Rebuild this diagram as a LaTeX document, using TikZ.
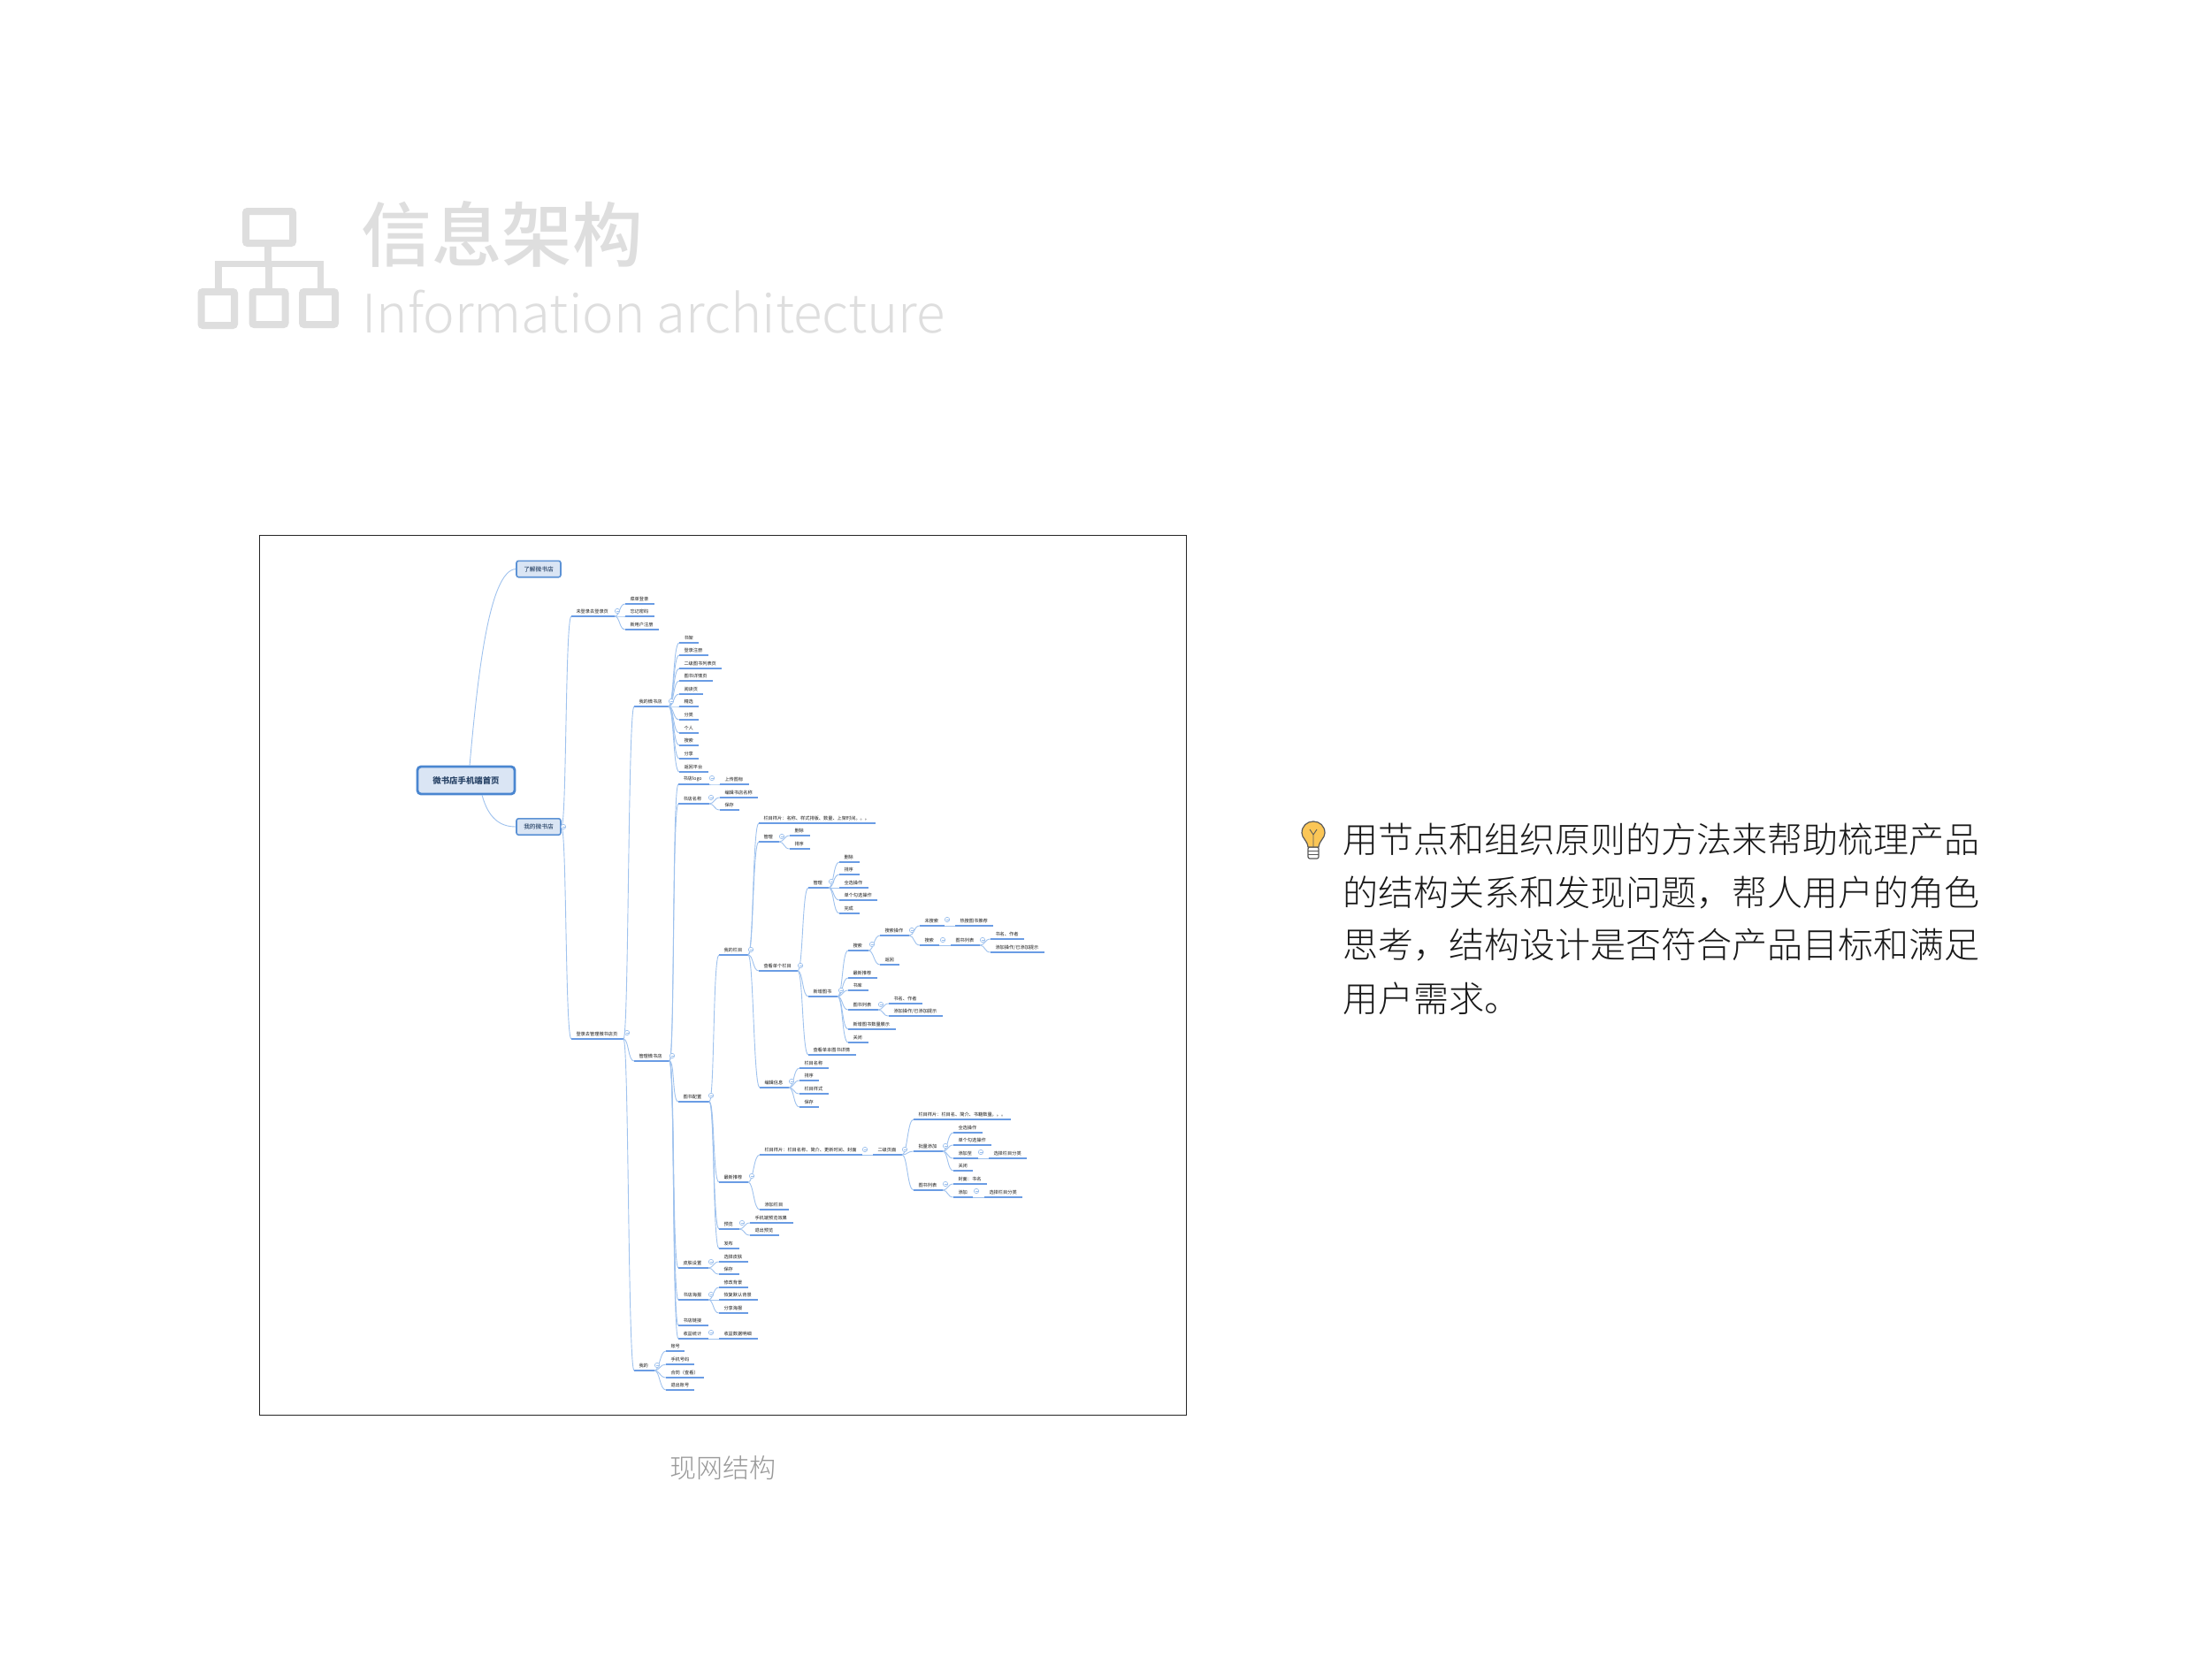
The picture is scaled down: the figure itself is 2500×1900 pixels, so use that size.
\documentclass[tikz,border=0pt]{standalone}
\usepackage{fontspec}
\setmainfont{Noto Sans CJK SC}
\newfontfamily\lightfont{Noto Sans CJK SC Light}
\newfontfamily\medfont{Noto Sans CJK SC Medium}
\definecolor{ttl}{HTML}{DEDEDE}
\definecolor{ul}{HTML}{6A9CE4}
\definecolor{cn}{HTML}{9FC2EE}
\definecolor{boxf}{HTML}{DAE5F4}
\definecolor{boxd}{HTML}{4A86D0}
\definecolor{txtb}{HTML}{2A4568}
\tikzset{
  x=0.5pt,y=-0.5pt,
  leaf/.style={inner sep=0pt,outer sep=0pt,text=black!90,font=\fontsize{2.6pt}{3pt}\selectfont},
  underl/.style={draw=ul,line width=0.55pt},
  conn/.style={draw=cn,line width=0.45pt},
  foldmark/.style={draw=cn,line width=0.35pt,fill=white},
  rootbox/.style={draw=boxd,line width=1.4pt,fill=boxf,rounded corners=2pt,minimum width=55pt,minimum height=15.5pt,text=txtb,font=\fontsize{4.7pt}{5pt}\selectfont\bfseries,inner sep=0pt},
  subbox/.style={draw=boxd!90,line width=0.8pt,fill=boxf,rounded corners=1.2pt,minimum width=25pt,minimum height=9.2pt,text=txtb,font=\medfont\fontsize{3.35pt}{4pt}\selectfont,inner sep=0pt},
  icon/.style={draw=ttl,line width=4pt,rounded corners=1pt},
  iconl/.style={draw=ttl,line width=3.8pt},
  bodyt/.style={inner sep=0pt,anchor=west,text=black!90,font=\lightfont\fontsize{20pt}{24pt}\selectfont},
}
\newcommand{\mnode}[5]{%
  \coordinate (#1-l) at (#2,#4);
  \coordinate (#1-r) at (#3,#4);
  \node[leaf,anchor=west] (#1) at (#2+5.5,#4-5.7) {#5};
  \draw[underl] (#1-l) -- (#1-r);}
\newcommand{\mconn}[2]{\draw[conn] (#1-r) .. controls +(6,0) and +(-7,0) .. (#2-l);}
\newcommand{\mfold}[2]{\draw[foldmark] (#1,#2) circle (2.7);\draw[foldmark] (#1-1.5,#2) -- (#1+1.5,#2);}
\begin{document}
\begin{tikzpicture}
\useasboundingbox (0,0) rectangle (2500,1900);
\fill[white] (0,0) rectangle (2500,1900);
% heading icon
\draw[icon] (278,239) rectangle (331,275);
\draw[iconl] (303,279) -- (303,298);
\draw[iconl] (247,326) -- (247,298.5) -- (362.5,298.5) -- (362.5,326);
\draw[iconl] (304,298) -- (304,326);
\draw[icon] (227.5,330) rectangle (265,368);
\draw[icon] (285.5,330) rectangle (322.5,367);
\draw[icon] (342,330) rectangle (379,367);
\node[inner sep=0pt,anchor=west,text=ttl,font=\medfont\fontsize{39.8pt}{42pt}\selectfont] (title) at (408,265) {信息架构};
\node[inner sep=0pt,anchor=base west,text=ttl,font=\lightfont\fontsize{30pt}{34pt}\selectfont] (subtitle) at (409,376) {Information architecture};
% frame
\draw[draw=black!85,line width=0.5pt] (293,605) rectangle (1341,1600);
\node[inner sep=0pt,text=black!40,font=\lightfont\fontsize{15pt}{18pt}\selectfont] (caption) at (817,1660) {现网结构};
% right text
\node[bodyt] (l1) at (1518,949) {用节点和组织原则的方法来帮助梳理产品};
\node[bodyt] (l2) at (1518,1009) {的结构关系和发现问题，帮人用户的角色};
\node[bodyt] (l3) at (1518,1069) {思考，结构设计是否符合产品目标和满足};
\node[bodyt] (l4) at (1518,1129) {用户需求。};
% bulb
\draw[fill=white,draw=black!65,line width=0.6pt,rounded corners=1pt] (1479,958) rectangle (1491,971);
\draw[draw=black!65,line width=0.5pt] (1479,962) -- (1491,962) (1479,966) -- (1491,966);
\draw[fill=yellow!35!orange!65,fill opacity=1,draw=black!65,line width=0.6pt] (1479,958) .. controls (1478,950) and (1472,948) .. (1472,942) .. controls (1472,934) and (1478,929) .. (1485,929) .. controls (1492,929) and (1498,934) .. (1498,942) .. controls (1498,948) and (1492,950) .. (1491,958) -- cycle;
\draw[draw=black!65,line width=0.45pt] (1481,938) -- (1485,944) -- (1489,938) (1485,944) -- (1485,958);

% ---- mind map ----
\node[rootbox] (root) at (527,882.5) {微书店手机端首页};
\node[subbox] (about) at (609,643.5) {了解微书店};
\node[subbox] (shop) at (609,935) {我的微书店};
\coordinate (shop-r) at (shop.east);
\draw[conn] (531,866) .. controls (540,765) and (553,645) .. (about.west);
\draw[conn] (545,899) .. controls (552,925) and (565,935) .. (shop.west);

\mnode{guest}{646}{695}{697}{未登录去登录页}
\mnode{mgr}{646}{705}{1175}{登录去管理微书店页}
\mconn{shop}{guest}\mconn{shop}{mgr}
\mnode{ga}{707}{740}{683}{菜单登录}
\mnode{gb}{707}{740}{697}{忘记密码}
\mnode{gc}{707}{745}{712}{新用户注册}
\mconn{guest}{ga}\mconn{guest}{gb}\mconn{guest}{gc}

\mnode{wshop}{717}{756}{799}{我的微书店}
\mnode{admin}{717}{757}{1200}{管理微书店}
\mnode{mine}{717}{740}{1550}{我的}
\mconn{mgr}{wshop}\mconn{mgr}{admin}\mconn{mgr}{mine}

\mnode{wa}{768}{790}{727}{书架}
\mnode{wb}{768}{801}{741}{登录注册}
\mnode{wc}{768}{816}{756}{二级图书列表页}
\mnode{wd}{768}{806}{770}{图书详情页}
\mnode{we}{768}{795}{785}{阅读页}
\mnode{wf}{768}{790}{799}{精选}
\mnode{wg}{768}{790}{814}{分类}
\mnode{wh}{768}{790}{829}{个人}
\mnode{wi}{768}{790}{843}{搜索}
\mnode{wj}{768}{790}{858}{分享}
\mnode{wk}{768}{801}{873}{返回平台}
\mconn{wshop}{wa}\mconn{wshop}{wb}\mconn{wshop}{wc}\mconn{wshop}{wd}\mconn{wshop}{we}\mconn{wshop}{wf}\mconn{wshop}{wg}\mconn{wshop}{wh}\mconn{wshop}{wi}\mconn{wshop}{wj}\mconn{wshop}{wk}

\mnode{logo}{767}{802}{887}{书店logo}
\mnode{sname}{767}{802}{909}{书店名称}
\mnode{conf}{767}{802}{1246}{图书配置}
\mnode{skin}{767}{801}{1434}{皮肤设置}
\mnode{poster}{767}{801}{1470}{书店海报}
\mnode{slink}{767}{801}{1499}{书店链接}
\mnode{income}{767}{801}{1514}{收益统计}
\mconn{admin}{logo}\mconn{admin}{sname}\mconn{admin}{conf}\mconn{admin}{skin}\mconn{admin}{poster}\mconn{admin}{slink}\mconn{admin}{income}

\mnode{upl}{814}{847}{887}{上传图标}
\mconn{logo}{upl}
\mnode{edn}{814}{857}{902}{编辑书店名称}
\mnode{svn}{814}{836}{916}{保存}
\mconn{sname}{edn}\mconn{sname}{svn}
\mnode{ska}{813}{846}{1427}{选择皮肤}
\mnode{skb}{813}{836}{1441}{保存}
\mconn{skin}{ska}\mconn{skin}{skb}
\mnode{poa}{813}{846}{1456}{修改背景}
\mnode{pob}{813}{857}{1470}{恢复默认背景}
\mnode{poc}{813}{846}{1485}{分享海报}
\mconn{poster}{poa}\mconn{poster}{pob}\mconn{poster}{poc}
\mnode{ina}{813}{857}{1514}{收益数据明细}
\mconn{income}{ina}

\mnode{ma}{753}{774}{1528}{账号}
\mnode{mb}{753}{785}{1543}{手机号码}
\mnode{mc}{753}{796}{1558}{合同（查看）}
\mnode{md}{753}{785}{1572}{退出账号}
\mconn{mine}{ma}\mconn{mine}{mb}\mconn{mine}{mc}\mconn{mine}{md}

\mnode{col}{813}{846}{1080}{我的栏目}
\mnode{newr}{813}{846}{1337}{最新推荐}
\mnode{prev}{813}{836}{1390}{预览}
\mnode{pub}{813}{836}{1412}{发布}
\mconn{conf}{col}\mconn{conf}{newr}\mconn{conf}{prev}\mconn{conf}{pub}
\mnode{pra}{848}{897}{1383}{手机端预览效果}
\mnode{prb}{848}{881}{1397}{退出预览}
\mconn{prev}{pra}\mconn{prev}{prb}

\mnode{cola}{858}{990}{931}{栏目样片：名称、样式排版、数量、上架时间。。。}
\mnode{colb}{858}{881}{952}{管理}
\mnode{colc}{858}{902}{1098}{查看单个栏目}
\mnode{cold}{859}{892}{1230}{编辑信息}
\mconn{col}{cola}\mconn{col}{colb}\mconn{col}{colc}\mconn{col}{cold}
\mnode{cba}{893}{916}{945}{删除}
\mnode{cbb}{893}{916}{960}{排序}
\mconn{colb}{cba}\mconn{colb}{cbb}
\mnode{cda}{904}{937}{1208}{栏目名称}
\mnode{cdb}{904}{926}{1222}{排序}
\mnode{cdc}{904}{937}{1237}{栏目样式}
\mnode{cdd}{904}{926}{1252}{保存}
\mconn{cold}{cda}\mconn{cold}{cdb}\mconn{cold}{cdc}\mconn{cold}{cdd}

\mnode{sa}{914}{937}{1004}{管理}
\mnode{sb}{914}{947}{1127}{新增图书}
\mnode{sc}{914}{968}{1193}{查看单本图书详情}
\mconn{colc}{sa}\mconn{colc}{sb}\mconn{colc}{sc}
\mnode{saa}{949}{972}{975}{删除}
\mnode{sab}{949}{972}{989}{排序}
\mnode{sac}{949}{982}{1004}{全选操作}
\mnode{sad}{949}{992}{1018}{单个勾选操作}
\mnode{sae}{949}{972}{1033}{完成}
\mconn{sa}{saa}\mconn{sa}{sab}\mconn{sa}{sac}\mconn{sa}{sad}\mconn{sa}{sae}

\mnode{ba}{959}{982}{1075}{搜索}
\mnode{bb}{959}{992}{1106}{最新推荐}
\mnode{bc}{959}{982}{1120}{书库}
\mnode{bd}{959}{993}{1142}{图书列表}
\mnode{be}{959}{1013}{1164}{新增图书数量展示}
\mnode{bf}{959}{982}{1179}{关闭}
\mconn{sb}{ba}\mconn{sb}{bb}\mconn{sb}{bc}\mconn{sb}{bd}\mconn{sb}{be}\mconn{sb}{bf}
\mnode{bda}{1005}{1043}{1135}{书名、作者}
\mnode{bdb}{1005}{1066}{1149}{添加操作/已添加提示}
\mconn{bd}{bda}\mconn{bd}{bdb}
\mnode{baa}{995}{1028}{1058}{搜索操作}
\mnode{bab}{995}{1017}{1091}{返回}
\mconn{ba}{baa}\mconn{ba}{bab}
\mnode{hs}{1040}{1068}{1047}{未搜索}
\mnode{hsa}{1080}{1123}{1047}{热搜图书推荐}
\mnode{sr}{1040}{1062}{1069}{搜索}
\mnode{srl}{1075}{1108}{1069}{图书列表}
\mconn{baa}{hs}\mconn{baa}{sr}\mconn{hs}{hsa}\mconn{sr}{srl}
\mnode{srla}{1120}{1158}{1062}{书名、作者}
\mnode{srlb}{1120}{1181}{1077}{添加操作/已添加提示}
\mconn{srl}{srla}\mconn{srl}{srlb}

\mnode{ra}{859}{975}{1306}{栏目样片：栏目名称、简介、更新时间、封面}
\mnode{rb}{859}{892}{1368}{添加栏目}
\mnode{rl}{987}{1020}{1306}{二级页面}
\mconn{newr}{ra}\mconn{newr}{rb}\mconn{ra}{rl}
\mnode{la}{1033}{1143}{1266}{栏目样片：栏目名、简介、书籍数量。。。}
\mnode{lb}{1033}{1066}{1302}{批量添加}
\mnode{lc}{1033}{1066}{1346}{图书列表}
\mconn{rl}{la}\mconn{rl}{lb}\mconn{rl}{lc}
\mnode{lba}{1078}{1111}{1281}{全选操作}
\mnode{lbb}{1078}{1121}{1295}{单个勾选操作}
\mnode{lbc}{1078}{1106}{1310}{添加至}
\mnode{lbd}{1078}{1100}{1324}{关闭}
\mconn{lb}{lba}\mconn{lb}{lbb}\mconn{lb}{lbc}\mconn{lb}{lbd}
\mnode{lbe}{1118}{1161}{1310}{选择栏目分类}
\mconn{lbc}{lbe}
\mnode{lca}{1078}{1116}{1339}{封面：书名}
\mnode{lcb}{1078}{1100}{1354}{添加}
\mconn{lc}{lca}\mconn{lc}{lcb}
\mnode{lcc}{1113}{1156}{1354}{选择栏目分类}
\mconn{lcb}{lcc}

% fold marks
\mfold{637}{935}\mfold{698}{691}\mfold{709}{1168}\mfold{759}{793}\mfold{760}{1194}\mfold{743}{1544}
\mfold{805}{880}\mfold{804}{902}\mfold{804}{1239}\mfold{804}{1427}\mfold{804}{1464}\mfold{804}{1507}
\mfold{849}{1074}\mfold{850}{1330}\mfold{839}{1383}\mfold{884}{946}\mfold{905}{1092}\mfold{895}{1223}
\mfold{940}{997}\mfold{951}{1120}\mfold{986}{1068}\mfold{996}{1136}\mfold{1031}{1052}\mfold{1071}{1040}
\mfold{1066}{1063}\mfold{1111}{1063}\mfold{978}{1300}\mfold{1023}{1300}\mfold{1069}{1296}\mfold{1069}{1339}
\mfold{1109}{1303}\mfold{1104}{1347}
\end{tikzpicture}
\end{document}
